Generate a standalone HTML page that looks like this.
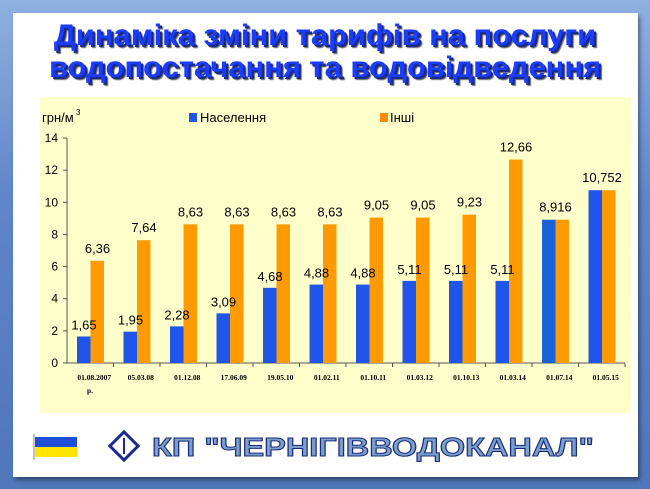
<!DOCTYPE html><html><head><meta charset="utf-8"><style>
body{margin:0;width:650px;height:489px;overflow:hidden;background:linear-gradient(180deg,#8fb0e0 0%,#5f86c8 40%,#4f76b8 100%);font-family:"Liberation Sans",sans-serif}
.slide{position:absolute;left:13px;top:13px;width:625px;height:464px;background:#fff;box-shadow:2px 3px 4px rgba(0,0,0,.4)}
.t{position:absolute;left:0;width:650px;text-align:center;font-weight:bold;font-size:30px;color:#1a3cff;letter-spacing:0px;text-shadow:2px 2px 0 #1a2a80,3px 3px 1px #666;font-family:"Liberation Sans",sans-serif;transform:scaleX(1.03)}
</style></head><body>
<div class="slide"></div>
<div class="t" style="top:19px">Динаміка зміни тарифів на послуги</div>
<div class="t" style="top:51px">водопостачання та водовідведення</div>
<svg width="650" height="489" style="position:absolute;left:0;top:0" font-family="Liberation Sans, sans-serif">
<rect x="40" y="97" width="591" height="316" fill="#ffffcc"/>
<text x="42" y="122" font-size="13">грн/м</text><text x="76" y="115" font-size="8">3</text>
<rect x="189" y="113" width="8" height="9" fill="#1f55e8"/><text x="200" y="122" font-size="13">Населення</text>
<rect x="380" y="113" width="8" height="9" fill="#ff8c00"/><text x="390" y="122" font-size="13">Інші</text>
<g id="c"></g>
</svg>
<script>
var blue=[1.65,1.95,2.28,3.09,4.68,4.88,4.88,5.11,5.11,5.11,8.916,10.752],
or=[6.36,7.64,8.63,8.63,8.63,8.63,9.05,9.05,9.23,12.66,8.916,10.752],
bl=["1,65","1,95","2,28","3,09","4,68","4,88","4,88","5,11","5,11","5,11"],
ol=["6,36","7,64","8,63","8,63","8,63","8,63","9,05","9,05","9,23","12,66"],
cats=["01.08.2007","05.03.08","01.12.08","17.06.09","19.05.10","01.02.11","01.10.11","01.03.12","01.10.13","01.03.14","01.07.14","01.05.15"];
var s="",y0=363,k=16.07,x0=67,gw=46.5;
s+='<line x1="'+x0+'" y1="138" x2="'+x0+'" y2="'+y0+'" stroke="#555"/><line x1="'+x0+'" y1="'+y0+'" x2="625" y2="'+y0+'" stroke="#555"/>';
for(var v=0;v<=14;v+=2){var y=y0-v*k;s+='<line x1="'+(x0-4)+'" y1="'+y+'" x2="'+x0+'" y2="'+y+'" stroke="#555"/><text x="'+(x0-9)+'" y="'+(y+4)+'" font-size="12" text-anchor="end">'+v+'</text>';}
for(var i=0;i<12;i++){var gx=x0+i*gw,bx=gx+10,ox=bx+13.5;
s+='<line x1="'+(gx+gw)+'" y1="'+y0+'" x2="'+(gx+gw)+'" y2="'+(y0+4)+'" stroke="#555"/>';
s+='<rect x="'+bx+'" y="'+(y0-blue[i]*k)+'" width="13.5" height="'+blue[i]*k+'" fill="'+(i==10?'#1a62d8':'#1f55e8')+'"/>';
s+='<rect x="'+ox+'" y="'+(y0-or[i]*k)+'" width="13.5" height="'+or[i]*k+'" fill="#ff9a00"/>';
if(i<10){s+='<text x="'+(bx+7)+'" y="'+(y0-blue[i]*k-7)+'" font-size="13" text-anchor="middle">'+bl[i]+'</text>';
s+='<text x="'+(ox+7)+'" y="'+(y0-or[i]*k-8)+'" font-size="13" text-anchor="middle">'+ol[i]+'</text>';}
else s+='<text x="'+(bx+13.5)+'" y="'+(y0-or[i]*k-8)+'" font-size="13" text-anchor="middle">'+(i==10?"8,916":"10,752")+'</text>';
s+='<text x="'+(gx+gw/2+4)+'" y="'+(y0+17)+'" font-size="7.5" font-weight="bold" font-family="Liberation Serif,serif" text-anchor="middle">'+cats[i]+'</text>';}
s+='<text x="90" y="'+(y0+30)+'" font-size="7.5" font-weight="bold" font-family="Liberation Serif,serif" text-anchor="middle">р.</text>';
s+='<rect x="35" y="437" width="42" height="10" fill="#1f4fd8"/><rect x="35" y="447" width="42" height="10" fill="#ffe600"/><line x1="34" y1="434" x2="34" y2="460" stroke="#888"/>';
s+='<g transform="translate(124,446) rotate(45)"><rect x="-10" y="-10" width="20" height="20" fill="none" stroke="#1a2a90" stroke-width="3"/></g><line x1="124" y1="438" x2="124" y2="454" stroke="#1a2a90" stroke-width="2"/>';
s+='<text x="0" y="0" transform="translate(373,456) scale(1.25,1)" font-size="26" font-weight="bold" text-anchor="middle" fill="#7aa0c8" stroke="#1a2a80" stroke-width="1">КП "ЧЕРНІГІВВОДОКАНАЛ"</text>';
document.getElementById("c").innerHTML=s;
</script>
</body></html>
